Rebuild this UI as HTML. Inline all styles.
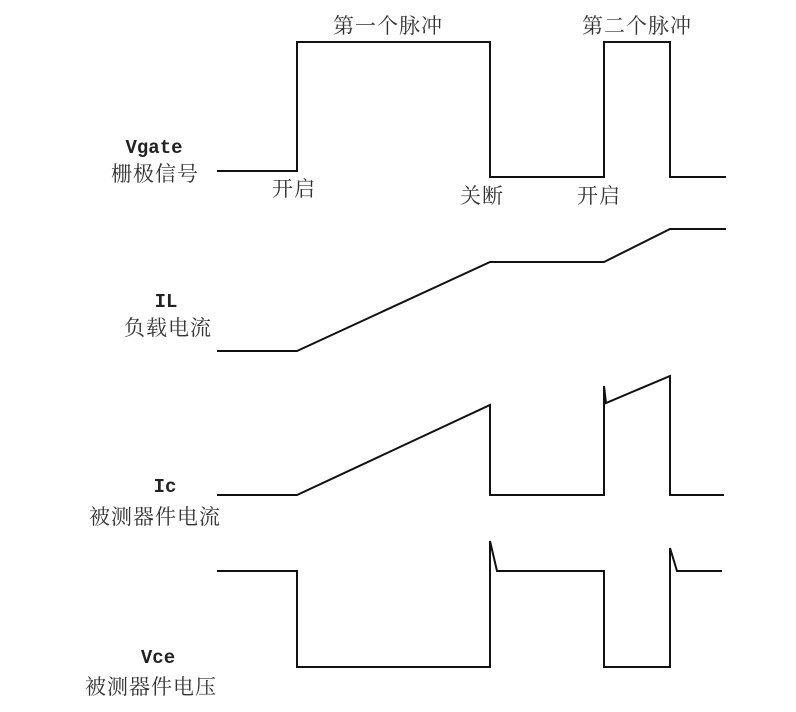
<!DOCTYPE html>
<html><head><meta charset="utf-8"><style>
html,body{margin:0;padding:0;background:#fff;}
svg{display:block}
.c{font-family:"Liberation Serif","Noto Serif CJK SC",serif;font-size:21px;fill:#333;letter-spacing:1px}
.l{font-family:"Liberation Mono",monospace;font-size:19px;font-weight:bold;fill:#222;}
</style></head><body>
<svg width="796" height="712" viewBox="0 0 796 712" xmlns="http://www.w3.org/2000/svg">
<g fill="none" stroke="#111" stroke-width="2">
<polyline points="217,171 297,171 297,42 490,42 490,177 604,177 604,42 670,42 670,177 726,177"/>
<polyline points="217,351 297,351 490,262 604,262 670,229 726,229"/>
<polyline points="217,495 297,495 490,405 490,495 604,495 604,386 606,403 670,376 670,495 724,495"/>
<polyline points="217,571 297,571 297,667 490,667 490,541 497,571 604,571 604,667 670,667 670,548 677,571 722,571"/>
</g>
<text class="c" x="388" y="33" text-anchor="middle">第一个脉冲</text>
<text class="c" x="637" y="33" text-anchor="middle">第二个脉冲</text>
<text class="c" x="294" y="196" text-anchor="middle">开启</text>
<text class="c" x="482" y="203" text-anchor="middle">关断</text>
<text class="c" x="599" y="203" text-anchor="middle">开启</text>
<text class="l" x="154" y="153" text-anchor="middle">Vgate</text>
<text class="c" x="155" y="181" text-anchor="middle">栅极信号</text>
<text class="l" x="166" y="307" text-anchor="middle">IL</text>
<text class="c" x="168" y="335" text-anchor="middle">负载电流</text>
<text class="l" x="165" y="492" text-anchor="middle">Ic</text>
<text class="c" x="155" y="524" text-anchor="middle">被测器件电流</text>
<text class="l" x="158" y="663" text-anchor="middle">Vce</text>
<text class="c" x="151" y="694" text-anchor="middle">被测器件电压</text>
</svg>
</body></html>
